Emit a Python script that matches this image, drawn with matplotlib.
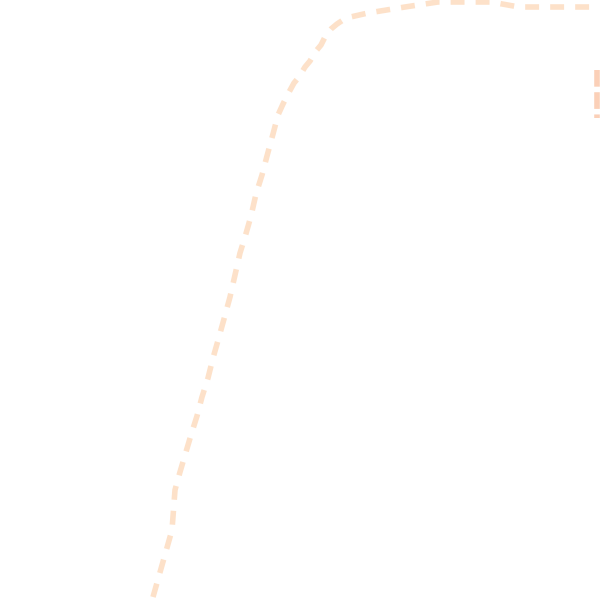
import matplotlib
matplotlib.use("Agg")
import matplotlib.pyplot as plt

# Curve (x to the right, y downward, 0..600 scale)
curve_x = [153, 172, 175, 180, 191, 197, 202, 208, 213, 219, 224, 230, 235, 240,
           245, 251, 256, 262, 267, 273, 278, 283, 288, 294, 299, 305, 310, 316,
           321, 326, 331, 337, 346, 368, 405, 438, 491, 519, 546, 600]
curve_y = [597, 530, 490, 472, 435, 416, 397, 378, 358, 337, 319, 297, 275, 253,
           237, 216, 194, 175, 156, 134, 115, 104, 94, 83, 77, 67, 61, 51,
           45, 35, 29, 24, 18, 13, 7, 2, 2, 7, 7, 7]

# Short vertical segment at the right edge
edge_x = [597, 597]
edge_y = [70, 118]

fig = plt.figure(figsize=(6, 6), dpi=100)
ax = fig.add_axes([0, 0, 1, 1])
ax.plot(curve_x, curve_y, color="#fde1c9", linewidth=4, linestyle=(0, (2.5, 2)),
        solid_capstyle="butt", dash_capstyle="butt")
ax.plot(edge_x, edge_y, color="#fbd0b8", linewidth=4, linestyle=(0, (3, 1)))
ax.set_xlim(0, 600)
ax.set_ylim(600, 0)
ax.axis("off")
fig.savefig("out.png", dpi=100)
